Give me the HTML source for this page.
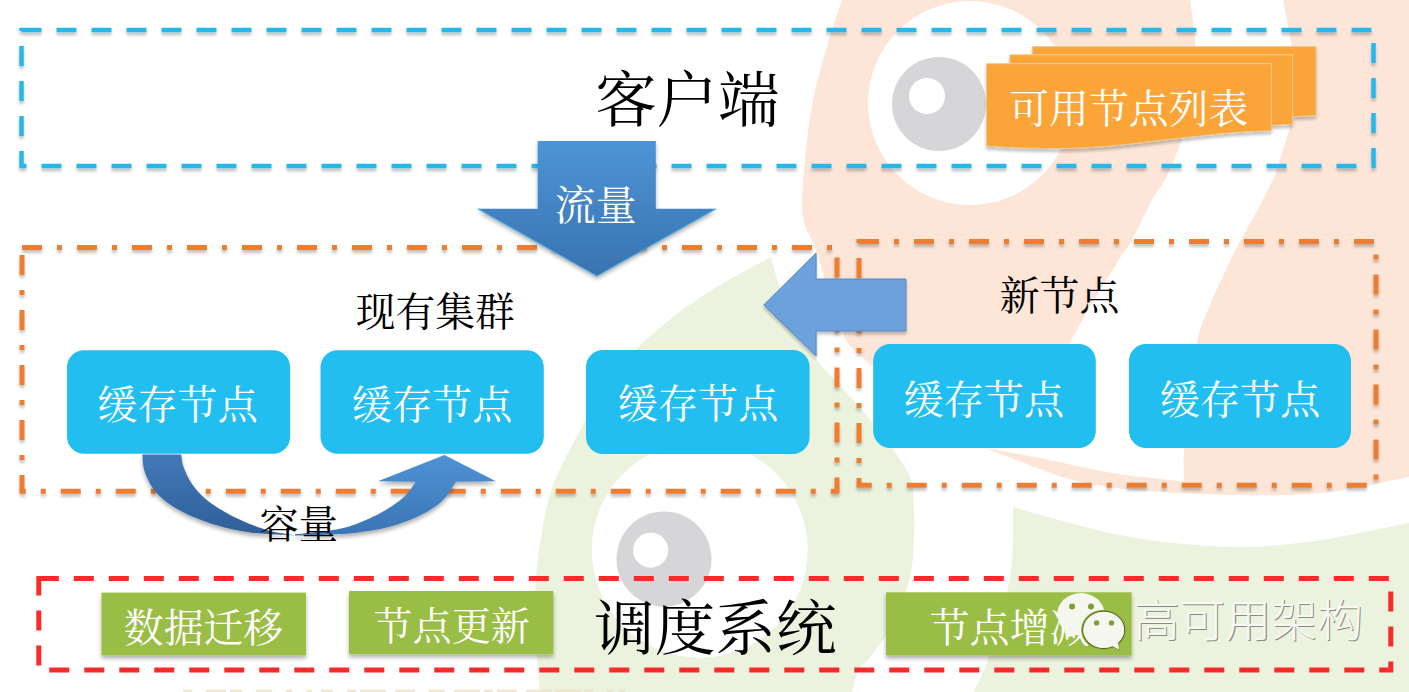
<!DOCTYPE html>
<html><head><meta charset="utf-8"><title>diagram</title>
<style>html,body{margin:0;padding:0;background:#fff;font-family:"Liberation Sans",sans-serif;}svg{display:block}</style>
</head><body>
<svg width="1409" height="692" viewBox="0 0 1409 692">
<defs>
<filter id="sh" x="-5%" y="-20%" width="110%" height="150%"><feGaussianBlur in="SourceAlpha" stdDeviation="1.5"/><feOffset dx="0" dy="2.6" result="b"/><feComponentTransfer><feFuncA type="linear" slope="0.24"/></feComponentTransfer><feMerge><feMergeNode/><feMergeNode in="SourceGraphic"/></feMerge></filter>
<filter id="sh2" x="-10%" y="-10%" width="120%" height="130%"><feGaussianBlur in="SourceAlpha" stdDeviation="2"/><feOffset dx="0" dy="2.6" result="b"/><feComponentTransfer><feFuncA type="linear" slope="0.32"/></feComponentTransfer><feMerge><feMergeNode/><feMergeNode in="SourceGraphic"/></feMerge></filter>
<linearGradient id="gArrow" x1="0" y1="0" x2="0" y2="1"><stop offset="0" stop-color="#4D95D5"/><stop offset="1" stop-color="#3972B0"/></linearGradient>
<linearGradient id="gCurveD" x1="0" y1="0" x2="0" y2="1"><stop offset="0" stop-color="#4279B8"/><stop offset="1" stop-color="#2F5F98"/></linearGradient>
<linearGradient id="gCurveL" x1="0" y1="0" x2="0" y2="1"><stop offset="0" stop-color="#4F93D4"/><stop offset="1" stop-color="#3A75B4"/></linearGradient>
</defs>
<rect width="1409" height="692" fill="#fff"/>
<g id="bg">
<path fill="#FDE5D7" d="M842.0,0.0 C839.3,8.3 830.8,33.3 826.0,50.0 C821.2,66.7 816.3,83.3 813.0,100.0 C809.7,116.7 807.8,133.3 806.0,150.0 C804.2,166.7 802.2,187.5 802.0,200.0 C801.8,212.5 802.5,216.2 805.0,225.0 C807.5,233.8 810.7,234.8 817.0,253.0 C823.3,271.2 833.8,315.2 843.0,334.0 C852.2,352.8 857.5,351.7 872.0,366.0 C886.5,380.3 911.2,406.3 930.0,420.0 C948.8,433.7 975.8,443.3 985.0,448.0 C994.2,451.5 1025.7,463.8 1040.0,469.0 C1054.3,474.2 1059.0,476.4 1071.0,479.5 C1083.0,482.6 1098.2,485.5 1112.0,487.5 C1125.8,489.5 1133.0,490.2 1154.0,491.5 C1175.0,492.8 1210.0,494.8 1238.0,495.0 C1266.0,495.2 1293.5,496.0 1322.0,493.0 C1350.5,490.0 1394.5,479.7 1409.0,477.0 L1409,0 Z"/>
<path fill="#fff" d="M1190.0,0.0 C1190.8,6.7 1194.2,26.7 1195.0,40.0 C1195.8,53.3 1196.2,66.7 1195.0,80.0 C1193.8,93.3 1190.8,108.3 1188.0,120.0 C1185.2,131.7 1181.7,140.3 1178.0,150.0 C1174.3,159.7 1170.3,169.7 1166.0,178.0 C1161.7,186.3 1157.8,189.3 1152.0,200.0 C1146.2,210.7 1136.3,232.3 1131.0,242.0 C1125.7,251.7 1125.8,248.8 1120.0,258.0 C1114.2,267.2 1103.7,284.2 1096.0,297.0 C1088.3,309.8 1079.7,324.5 1074.0,335.0 C1068.3,345.5 1067.7,349.2 1062.0,360.0 C1056.3,370.8 1050.3,385.3 1040.0,400.0 C1029.7,414.7 1006.7,440.0 1000.0,448.0 L985,448 C994.2,449.7 1018.8,453.8 1040.0,458.0 C1061.2,462.2 1088.0,469.1 1112.0,473.0 C1136.0,476.9 1172.0,480.1 1184.0,481.5 L1184,481.5 C1184.0,476.2 1183.0,463.6 1184.0,450.0 C1185.0,436.4 1187.8,418.0 1190.0,400.0 C1192.2,382.0 1193.7,357.8 1197.0,342.0 C1200.3,326.2 1205.5,316.3 1210.0,305.0 C1214.5,293.7 1219.0,284.6 1224.0,274.0 C1229.0,263.4 1234.3,252.3 1240.0,241.5 C1245.7,230.7 1252.2,220.1 1258.0,209.0 C1263.8,197.9 1271.2,183.8 1275.0,175.0 C1278.8,166.2 1278.7,163.5 1281.0,156.0 C1283.3,148.5 1287.0,139.3 1289.0,130.0 C1291.0,120.7 1292.3,111.7 1293.0,100.0 C1293.7,88.3 1293.7,71.5 1293.0,60.0 C1292.3,48.5 1290.7,41.0 1289.0,31.0 C1287.3,21.0 1284.0,5.2 1283.0,0.0 Z"/>
<circle cx="970" cy="103" r="102" fill="#fff"/>
<circle cx="939" cy="104" r="47" fill="#D6D6D8"/>
<circle cx="927" cy="96" r="18" fill="#fff"/>
<path fill="#EBF3DE" d="M771.0,257.0 C772.3,261.5 774.2,271.0 779.0,284.0 C783.8,297.0 793.2,321.7 800.0,335.0 C806.8,348.3 812.8,355.0 820.0,364.0 C827.2,373.0 834.3,379.3 843.0,389.0 C851.7,398.7 863.0,411.0 872.0,422.0 C881.0,433.0 890.5,445.3 897.0,455.0 C903.5,464.7 908.2,470.8 911.0,480.0 C913.8,489.2 913.5,500.0 914.0,510.0 C914.5,520.0 914.7,528.8 914.0,540.0 C913.3,551.2 913.2,563.7 910.0,577.0 C906.8,590.3 901.3,607.0 895.0,620.0 C888.7,633.0 878.0,646.7 872.0,655.0 C866.0,663.3 862.3,663.8 859.0,670.0 C855.7,676.2 853.2,688.3 852.0,692.0 L540,692 C539.2,681.7 535.7,649.0 535.0,630.0 C534.3,611.0 534.8,594.5 536.0,578.0 C537.2,561.5 539.5,545.5 542.0,531.0 C544.5,516.5 546.8,503.7 551.0,491.0 C555.2,478.3 559.7,469.3 567.0,455.0 C574.3,440.7 584.5,421.5 595.0,405.0 C605.5,388.5 617.0,370.7 630.0,356.0 C643.0,341.3 658.5,328.5 673.0,317.0 C687.5,305.5 700.7,297.0 717.0,287.0 C733.3,277.0 762.0,262.0 771.0,257.0 Z"/>
<path fill="#EBF3DE" d="M1013.0,507.0 C1021.8,509.5 1048.2,517.3 1066.0,522.0 C1083.8,526.7 1102.0,531.5 1120.0,535.0 C1138.0,538.5 1152.8,541.0 1174.0,543.0 C1195.2,545.0 1222.5,547.5 1247.0,547.0 C1271.5,546.5 1294.0,544.0 1321.0,540.0 C1348.0,536.0 1394.3,525.8 1409.0,523.0 L1409,692 L973,692 C974.8,688.3 979.5,682.0 984.0,670.0 C988.5,658.0 995.7,635.5 1000.0,620.0 C1004.3,604.5 1007.8,590.3 1010.0,577.0 C1012.2,563.7 1012.5,551.7 1013.0,540.0 C1013.5,528.3 1013.0,512.5 1013.0,507.0 Z"/>
<circle cx="699.7" cy="549.8" r="108" fill="#fff"/>
<circle cx="664" cy="559" r="47.5" fill="#D6D6D8"/>
<circle cx="650.7" cy="550.2" r="17.5" fill="#fff"/>
</g>
<rect x="21.5" y="30" width="1352" height="136" fill="none" stroke="#28B8EB" stroke-width="4.5" stroke-dasharray="20 15" filter="url(#sh)"/>
<text x="595.22" y="121.72" font-size="61.42" fill="#000" font-family="'Liberation Serif','Noto Serif CJK SC',serif">客户端</text>
<g filter="url(#sh)" stroke="#E6CB9A" stroke-width="1">
<path fill="#FBA539" d="M1032.3,46.6 L1316,46.6 L1316,115.6 C1308,115.8 1300,116.2 1292.6,116.8 L1292.6,54.8 L1032.3,54.8 Z"/>
<path fill="#FBA539" d="M1009.9,54.8 L1292.6,54.8 L1292.6,124.3 C1285,124.6 1278,125 1271.4,125.6 L1271.4,63.7 L1009.9,63.7 Z"/>
<path fill="#FBA539" d="M986.4,63.7 L1271.4,63.7 L1271.4,130.7 C1264.5,131.1 1245.4,131.7 1230.0,133.0 C1214.6,134.3 1195.7,136.5 1179.0,138.3 C1162.3,140.1 1143.2,142.6 1130.0,144.0 C1116.8,145.4 1110.8,146.1 1100.0,146.8 C1089.2,147.6 1078.3,148.3 1065.0,148.5 C1051.7,148.7 1033.1,148.4 1020.0,148.0 C1006.9,147.6 992.0,146.3 986.4,146.0 Z"/>
</g>
<text x="1009.25" y="123.35" font-size="39.85" fill="#fff" font-family="'Liberation Serif','Noto Serif CJK SC',serif">可用节点列表</text>
<rect x="22" y="247.5" width="815" height="243.75" fill="none" stroke="#EE7D31" stroke-width="5" stroke-dasharray="20 15 5 15" filter="url(#sh)"/>
<rect x="859" y="241.5" width="517" height="243.75" fill="none" stroke="#EE7D31" stroke-width="5" stroke-dasharray="20 15 5 15" filter="url(#sh)"/>
<path d="M537.7,141 L655.8,141 L655.8,208.7 L716.1,208.7 L596.9,276 L477.6,208.7 L537.7,208.7 Z" fill="url(#gArrow)" filter="url(#sh2)"/>
<path d="M477.6,208.7 L596.9,276 L716.1,208.7" fill="none" stroke="#3FB0E6" stroke-width="1.3" stroke-opacity="0.75"/>
<text x="554.81" y="220.11" font-size="41.02" fill="#fff" font-family="'Liberation Serif','Noto Serif CJK SC',serif">流量</text>
<text x="355.73" y="325.77" font-size="39.76" fill="#000" font-family="'Liberation Serif','Noto Serif CJK SC',serif">现有集群</text>
<text x="999.68" y="309.81" font-size="39.93" fill="#000" font-family="'Liberation Serif','Noto Serif CJK SC',serif">新节点</text>
<path d="M763.7,305 L816.1,253 L816.1,279 L906,279 L906,331 L816.1,331 L816.1,356 Z" fill="#6CA2DC" fill-opacity="0.985" stroke="#5588C2" stroke-width="1" filter="url(#sh)"/>
<rect x="67" y="350.2" width="223.2" height="103.6" rx="17" fill="#23BEF0"/>
<rect x="320.5" y="350.2" width="223.3" height="103.6" rx="17" fill="#23BEF0"/>
<rect x="586" y="350" width="223.6" height="104" rx="17" fill="#23BEF0"/>
<rect x="873.2" y="344" width="222.6" height="104" rx="17" fill="#23BEF0"/>
<rect x="1129" y="344" width="222" height="104" rx="17" fill="#23BEF0"/>
<text x="97.27" y="418.93" font-size="40.17" fill="#fff" font-family="'Liberation Serif','Noto Serif CJK SC',serif">缓存节点</text>
<text x="351.77" y="418.93" font-size="40.17" fill="#fff" font-family="'Liberation Serif','Noto Serif CJK SC',serif">缓存节点</text>
<text x="617.77" y="418.23" font-size="40.17" fill="#fff" font-family="'Liberation Serif','Noto Serif CJK SC',serif">缓存节点</text>
<text x="903.47" y="413.93" font-size="40.17" fill="#fff" font-family="'Liberation Serif','Noto Serif CJK SC',serif">缓存节点</text>
<text x="1159.77" y="413.93" font-size="40.17" fill="#fff" font-family="'Liberation Serif','Noto Serif CJK SC',serif">缓存节点</text>
<g filter="url(#sh2)">
<path d="M142.3,454.4 C142.7,457.2 142.7,465.3 144.5,471.0 C146.3,476.7 149.2,483.1 153.0,488.4 C156.8,493.7 161.8,498.5 167.6,502.8 C173.4,507.1 179.6,510.7 187.8,514.4 C196.0,518.1 207.1,522.3 216.7,525.2 C226.3,528.1 236.0,530.1 245.6,531.7 C255.2,533.3 266.3,534.0 274.5,534.6 C282.7,535.2 291.6,535.2 295.0,535.3 L295,535.3 C292.8,535.0 286.3,534.1 281.7,533.3 C277.1,532.5 273.3,532.1 267.3,530.3 C261.3,528.5 252.8,525.4 245.6,522.3 C238.4,519.2 230.8,515.5 224.0,511.5 C217.2,507.5 210.3,503.1 205.0,498.5 C199.7,493.9 195.6,489.3 192.0,484.0 C188.4,478.7 185.3,471.6 183.5,466.7 C181.7,461.8 181.7,456.4 181.3,454.4 Z" fill="url(#gCurveD)"/>
<path d="M295.0,534.2 C298.2,533.9 308.4,532.9 314.5,532.2 C320.6,531.6 325.8,531.3 331.8,530.3 C337.8,529.3 343.9,528.2 350.6,526.0 C357.3,523.8 365.0,520.7 372.0,517.3 C379.0,513.9 386.7,509.6 392.5,505.7 C398.3,501.8 403.1,498.0 407.0,494.0 C410.9,490.0 414.2,483.8 415.6,481.8 L378,481.3 L444.5,455.1 L495.8,481.3 L456,481.8 C454.1,484.6 448.8,493.8 444.5,498.5 C440.2,503.2 435.8,506.4 430.0,510.0 C424.2,513.6 417.0,517.1 409.8,520.0 C402.6,522.9 395.4,525.3 386.7,527.4 C378.0,529.5 366.2,531.3 357.8,532.4 C349.4,533.5 344.0,533.7 336.0,534.2 C328.0,534.7 316.8,535.2 310.0,535.4 C303.2,535.6 297.5,535.6 295.0,535.6 Z" fill="url(#gCurveL)"/>
</g>
<text x="259.55" y="538.15" font-size="39.21" fill="#000" font-family="'Liberation Serif','Noto Serif CJK SC',serif">容量</text>
<rect x="38.8" y="578.6" width="1352" height="91.5" fill="none" stroke="#F92A2A" stroke-width="5" stroke-dasharray="20 15"/>
<rect x="101.5" y="592.6" width="204.5" height="62.8" fill="#9ABD45" filter="url(#sh2)"/>
<rect x="349" y="591" width="204.4" height="63.2" fill="#9ABD45" filter="url(#sh2)"/>
<rect x="886" y="592.3" width="245.6" height="63.2" fill="#9ABD45" filter="url(#sh2)"/>
<text x="123.87" y="641.70" font-size="39.85" fill="#fff" font-family="'Liberation Serif','Noto Serif CJK SC',serif">数据迁移</text>
<text x="373.43" y="640.18" font-size="39.13" fill="#fff" font-family="'Liberation Serif','Noto Serif CJK SC',serif">节点更新</text>
<text x="929.40" y="641.61" font-size="40.09" fill="#fff" font-family="'Liberation Serif','Noto Serif CJK SC',serif">节点增减</text>
<text x="594.12" y="650.34" font-size="60.61" fill="#000" font-family="'Liberation Serif','Noto Serif CJK SC',serif">调度系统</text>
<g>
<ellipse cx="1080.9" cy="614.3" rx="23.8" ry="21.2" fill="#F5F7EE"/>
<path d="M1064,630 L1066.5,638 L1075.5,633.5 Z" fill="#F5F7EE"/>
<ellipse cx="1103.7" cy="629.9" rx="22.6" ry="20.2" fill="#8DB03C"/>
<ellipse cx="1103.7" cy="629.9" rx="21.4" ry="19.1" fill="#4F6322"/>
<ellipse cx="1103.7" cy="629.9" rx="20.5" ry="18.2" fill="#F5F7EE"/>
<path d="M1110.5,645.5 L1119.8,650.2 L1118.2,642 Z" fill="#F5F7EE" stroke="#4F6322" stroke-width="0.5"/>
<ellipse cx="1103.7" cy="629.9" rx="20" ry="17.7" fill="#F5F7EE"/>
<circle cx="1072.1" cy="606.4" r="3" fill="#7E9E38"/><circle cx="1091" cy="606.4" r="3" fill="#7E9E38"/>
<circle cx="1096.6" cy="622.9" r="2.7" fill="#7E9E38"/><circle cx="1111.5" cy="622.9" r="2.7" fill="#7E9E38"/>
</g>
<g transform="translate(1.1,1.1)"><text x="1133.66" y="637.33" font-size="45.84" fill="#8A8A82" font-weight="300" font-family="'Liberation Sans','Noto Sans CJK SC',sans-serif">高可用架构</text></g>
<text x="1133.66" y="637.33" font-size="45.84" fill="#F8F9F2" font-weight="300" font-family="'Liberation Sans','Noto Sans CJK SC',sans-serif">高可用架构</text>
<g fill="#EFE3C2" opacity="0.8"><rect x="183" y="689.6" width="9" height="2.4"/><rect x="206" y="689.6" width="20" height="2.4"/><rect x="230" y="689.6" width="12" height="2.4"/><rect x="256" y="689.6" width="16" height="2.4"/><rect x="286" y="689.6" width="6" height="2.4"/><rect x="306" y="689.6" width="6" height="2.4"/><rect x="321" y="689.6" width="12" height="2.4"/><rect x="347" y="689.6" width="9" height="2.4"/><rect x="360" y="689.6" width="26" height="2.4"/><rect x="395" y="689.6" width="20" height="2.4"/><rect x="429" y="689.6" width="16" height="2.4"/><rect x="454" y="689.6" width="26" height="2.4"/><rect x="484" y="689.6" width="9" height="2.4"/><rect x="497" y="689.6" width="20" height="2.4"/><rect x="526" y="689.6" width="26" height="2.4"/><rect x="555" y="689.6" width="26" height="2.4"/><rect x="584" y="689.6" width="9" height="2.4"/><rect x="607" y="689.6" width="6" height="2.4"/><rect x="619" y="689.6" width="6" height="2.4"/></g>
</svg>
</body></html>
